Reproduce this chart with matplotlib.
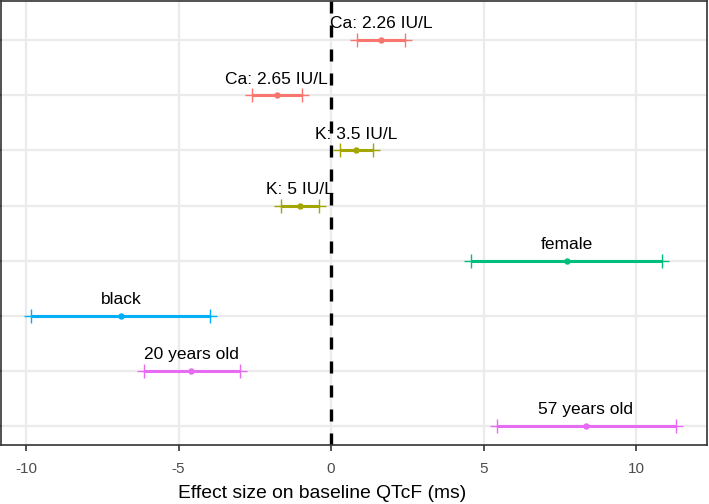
#!/usr/bin/env python3
"""Forest-style plot: effect size on baseline QTcF per covariate."""

import matplotlib.pyplot as plt

plt.rcParams["font.family"] = ["Liberation Sans", "DejaVu Sans"]

LABELS = [
    "Ca: 2.26 IU/L",
    "Ca: 2.65 IU/L",
    "K: 3.5 IU/L",
    "K: 5 IU/L",
    "female",
    "black",
    "20 years old",
    "57 years old",
]
ESTIMATE = [1.64, -1.79, 0.83, -1.03, 7.73, -6.89, -4.58, 8.35]
LOWER = [0.85, -2.61, 0.29, -1.65, 4.60, -9.85, -6.15, 5.43]
UPPER = [2.42, -0.97, 1.38, -0.40, 10.85, -3.98, -2.99, 11.30]
GROUP_COLORS = ["#F8766D", "#F8766D", "#A3A500", "#A3A500",
                "#00BF7D", "#00B0F6", "#E76BF3", "#E76BF3"]
XTICKS = [-10, -5, 0, 5, 10]


def main() -> None:
    fig = plt.figure(figsize=(7.09, 5.04), dpi=100)
    ax = fig.add_axes([0.0015, 0.117, 0.996, 0.881])

    rows = list(range(1, len(LABELS) + 1))
    for y, lab, est, lo, hi, col in zip(rows, LABELS, ESTIMATE, LOWER, UPPER, GROUP_COLORS):
        ax.hlines(y, lo, hi, color=col, linewidth=2.2, zorder=3)
        ax.plot([lo, hi], [y, y], "+", color=col, markersize=9.5,
                markeredgewidth=1.0, zorder=3)
        ax.plot([est], [y], "o", color=col, markersize=3.6, zorder=4)
        ax.annotate(lab, (est, y), xytext=(0, 8.5), textcoords="offset points",
                    ha="center", va="baseline", fontsize=12.5, color="black")

    ax.axvline(0, color="black", linewidth=2.4, linestyle=(0, (3.6, 3.6)), zorder=2)

    ax.set_xlim(-10.82, 12.33)
    ax.set_ylim(8.34, 0.29)
    ax.set_xticks(XTICKS)
    ax.set_xticklabels([str(t) for t in XTICKS])
    ax.set_yticks(rows)
    ax.set_yticklabels([])
    ax.grid(True, color="#EBEBEB", linewidth=1.6, zorder=0)
    ax.set_axisbelow(True)
    for s in ax.spines.values():
        s.set_color("#333333")
        s.set_linewidth(1.2)
    ax.tick_params(axis="both", colors="#333333", length=4, width=1.2,
                   labelsize=11, labelcolor="#4D4D4D", pad=8)

    # the panel centre of the original sits left of the cropped image centre
    fig.text(322 / 709, 1 - 498 / 504, "Effect size on baseline QTcF (ms)",
             ha="center", va="baseline", fontsize=13.9, color="black")

    fig.savefig("out.png", dpi=100)
    plt.close(fig)


if __name__ == "__main__":
    main()
